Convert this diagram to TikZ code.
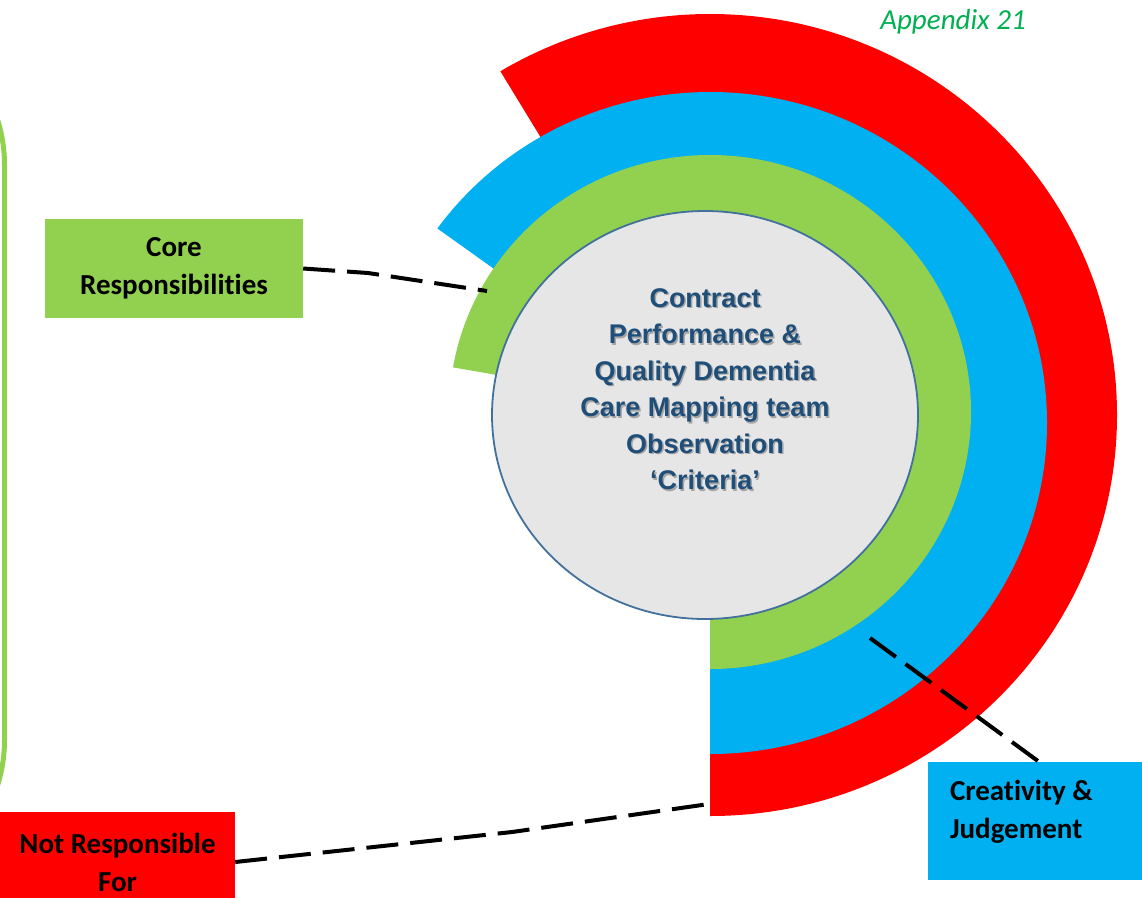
\documentclass[tikz,border=0pt]{standalone}
\usepackage{fontspec}
\setmainfont[Ligatures = {TeX, NoCommon}]{Carlito}
\newfontfamily\hubFont{Liberation Sans}
\usepackage{tikz}
\usetikzlibrary{positioning,shapes.geometric}
\tikzstyle{screen} = [x = 1pt, y = -1pt]
\definecolor{ringRed}{RGB}{255,0,0}
\definecolor{ringBlue}{RGB}{0,176,240}
\definecolor{ringGreen}{RGB}{146,208,80}
\definecolor{hubGrey}{RGB}{230,230,230}
\definecolor{hubEdge}{RGB}{65,113,156}
\definecolor{hubInk}{RGB}{31,78,121}
\definecolor{appendixGreen}{RGB}{0,176,80}
\tikzstyle{labelBox} = [rectangle, inner sep = 0pt, font = \bfseries\fontsize{29}{38}\selectfont, align = center]
\tikzstyle{leaderLine} = [color = black, line width = 4pt, dash pattern = on 32pt off 12pt]
\tikzstyle{frameLine} = [color = ringGreen, line width = 5pt, rounded corners = 150pt]
\tikzstyle{hubText} = [font = \hubFont\bfseries\fontsize{27}{36.5}\selectfont, align = center]
\newcommand{\ringSector}[6]{\fill [#1] (#2, #3) -- ++(0, #5) arc [start angle = 90, end angle = -#6, x radius = #4, y radius = #5] -- cycle;}

\begin{document}
\begin{tikzpicture}[screen]
  \useasboundingbox (0,0) rectangle (1142,897);
  \draw [frameLine] (-600,15) rectangle (4.5,890);

  \ringSector{ringRed}{710}{415}{407}{401}{121}
  \ringSector{ringBlue}{710}{423}{337}{331}{144}
  \ringSector{ringGreen}{710}{412}{261}{257}{170}
  \node (hub) [ellipse, draw = hubEdge, line width = 1.8pt, fill = hubGrey, minimum width = 426pt, minimum height = 408pt, inner sep = 0pt] at (705,415) {};
  \node (hubShadow) [hubText, text = black!35, xshift = 1.5pt, yshift = -1.5pt] at (705,389) {Contract\\Performance \&\\Quality Dementia\\Care Mapping team\\Observation\\‘Criteria’};
  \node (hubLabel) [hubText, text = hubInk] at (705,389) {Contract\\Performance \&\\Quality Dementia\\Care Mapping team\\Observation\\‘Criteria’};

  \node (appendix) [font = \itshape\fontsize{29}{34}\selectfont, text = appendixGreen] at (953,22) {Appendix 21};

  \node (core) [labelBox, fill = ringGreen, minimum width = 258pt, minimum height = 99pt] at (174,268.5) {Core\\Responsibilities};
  \node (notResp) [labelBox, fill = ringRed, minimum width = 235pt, minimum height = 100pt] at (117.5,862) {Not Responsible\\For};
  \node (creative) [labelBox, fill = ringBlue, minimum width = 222pt, minimum height = 118pt] at (1039,821) {};
  \node (creativeText) [labelBox, align = left, right = 22pt of creative.west, yshift = 9pt] {Creativity \&\\Judgement};

  % leader lines
  \coordinate (coreBend) at (368,273);
  \coordinate (coreTip) at (487,291);
  \draw [leaderLine] (core.east) -- (coreBend) -- (coreTip);
  \coordinate (notRespBend) at (512,832);
  \coordinate (notRespTip) at (709,804);
  \draw [leaderLine] (notResp.east) -- (notRespBend) -- (notRespTip);
  \coordinate (creativeTip) at (870,638);
  \draw [leaderLine] (creativeTip) -- (creative.north);
\end{tikzpicture}
\end{document}
